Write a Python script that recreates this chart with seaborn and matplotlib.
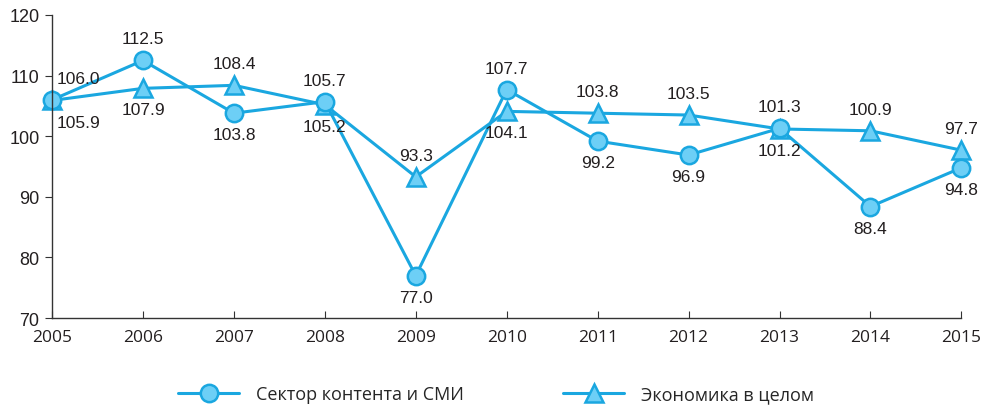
import matplotlib
matplotlib.use("Agg")
import matplotlib.pyplot as plt
import seaborn as sns
import pandas as pd

years = [2005, 2006, 2007, 2008, 2009, 2010, 2011, 2012, 2013, 2014, 2015]
media = [106.0, 112.5, 103.8, 105.7, 77.0, 107.7, 99.2, 96.9, 101.3, 88.4, 94.8]
economy = [105.9, 107.9, 108.4, 105.2, 93.3, 104.1, 103.8, 103.5, 101.2, 100.9, 97.7]
series_names = ["Сектор контента и СМИ", "Экономика в целом"]
# label placement: +1 above, -1 below
media_pos = [1, 1, -1, 1, -1, 1, -1, -1, 1, -1, -1]
economy_pos = [-1, -1, 1, -1, 1, -1, 1, 1, -1, 1, 1]

sns.set_style("ticks")
plt.rcParams['font.family'] = ['Liberation Sans', 'DejaVu Sans']

line_c = "#1AA7E0"
fill_c = "#6DCFF6"

fig = plt.figure(figsize=(9.82, 4.06), dpi=100)
ax = fig.add_axes([0.053, 0.214, 0.926, 0.7466])

df1 = pd.DataFrame({"year": years, "value": media})
df2 = pd.DataFrame({"year": years, "value": economy})

sns.lineplot(data=df2, x="year", y="value", ax=ax, color=line_c, lw=2.2,
             marker="^", markersize=13.5, markerfacecolor=fill_c,
             markeredgecolor=line_c, markeredgewidth=1.8, label=series_names[1])
sns.lineplot(data=df1, x="year", y="value", ax=ax, color=line_c, lw=2.2,
             marker="o", markersize=12.5, markerfacecolor=fill_c,
             markeredgecolor=line_c, markeredgewidth=1.8, label=series_names[0])

for vals, pos in ((media, media_pos), (economy, economy_pos)):
    for x, v, p in zip(years, vals, pos):
        dx = 0
        if x == 2005:
            dx = 19
        ax.annotate(f"{v:.1f}", (x, v), xytext=(dx, 15.5 * p), textcoords="offset points",
                    ha="center", va="center", fontsize=12.5, color="#231F20")

ax.set_xlim(2005, 2015)
ax.set_ylim(70, 120)
ax.set_xticks(years)
ax.set_yticks([70, 80, 90, 100, 110, 120])
ax.set_xlabel("")
ax.set_ylabel("")
sns.despine(ax=ax)
for s in ("left", "bottom"):
    ax.spines[s].set_color("#333333")
    ax.spines[s].set_linewidth(1.0)
ax.tick_params(axis="y", direction="out", length=5, labelsize=13, colors="#333333",
               labelcolor="#231F20", pad=4)
ax.tick_params(axis="x", direction="in", length=5, labelsize=13, colors="#333333",
               labelcolor="#231F20", pad=8)
for t in ax.get_xticklabels():
    t.set_family(["Open Sans", "DejaVu Sans"])
    t.set_fontsize(12.5)
ax.set_clip_on(False)
for l in ax.lines:
    l.set_clip_on(False)

h, lab = ax.get_legend_handles_labels()
order = [lab.index(series_names[0]), lab.index(series_names[1])]
ax.legend([h[i] for i in order], [lab[i] for i in order], loc="center",
          bbox_to_anchor=(0.488, -0.25), ncol=2, frameon=False,
          prop={"family": ["Open Sans", "DejaVu Sans"], "size": 13},
          handlelength=3.4, columnspacing=5.5, handletextpad=0.9)

fig.savefig("out.png", dpi=100)
